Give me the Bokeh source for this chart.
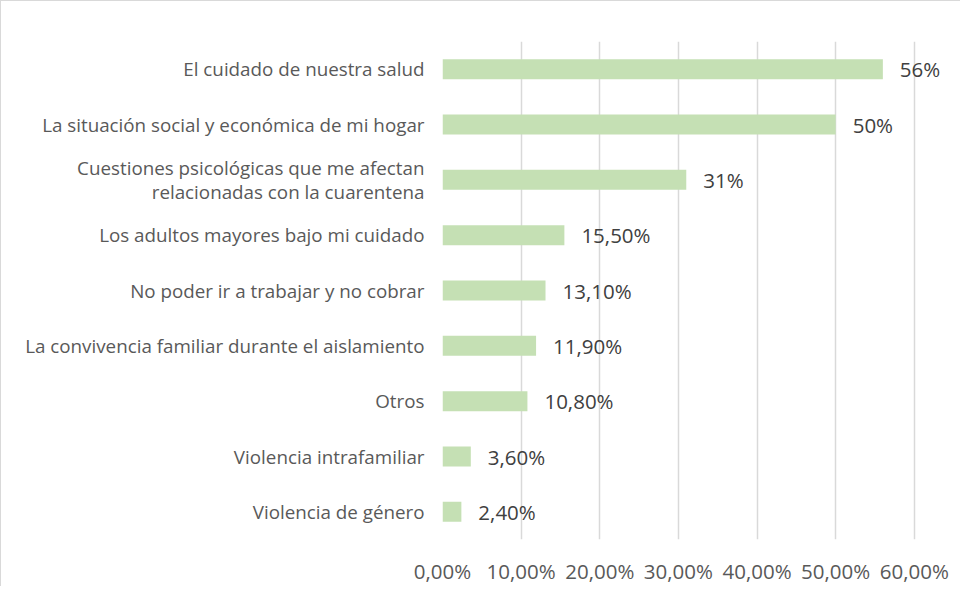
from bokeh.plotting import figure
from bokeh.models import FactorRange, Range1d, FixedTicker, ColumnDataSource, Grid
from bokeh.embed import file_html
from bokeh.resources import INLINE

categories = [
    "El cuidado de nuestra salud",
    "La situación social y económica de mi hogar",
    "Cuestiones psicológicas que me afectan\nrelacionadas con la cuarentena",
    "Los adultos mayores bajo mi cuidado",
    "No poder ir a trabajar y no cobrar",
    "La convivencia familiar durante el aislamiento",
    "Otros",
    "Violencia intrafamiliar",
    "Violencia de género",
]
values = [56, 50, 31, 15.5, 13.1, 11.9, 10.8, 3.6, 2.4]
value_labels = ["56%", "50%", "31%", "15,50%", "13,10%", "11,90%", "10,80%", "3,60%", "2,40%"]
x_ticks = [0, 10, 20, 30, 40, 50, 60]
x_tick_labels = ["0,00%", "10,00%", "20,00%", "30,00%", "40,00%", "50,00%", "60,00%"]

FONT = "Open Sans"
BAR_COLOR = "#C5E0B4"
GRID_COLOR = "#D9D9D9"

src = ColumnDataSource(dict(cat=categories, val=values, lab=value_labels))

p = figure(
    width=960, height=586,
    y_range=FactorRange(factors=list(reversed(categories)), range_padding=0),
    x_range=Range1d(0, 66),
    output_backend="svg", toolbar_location=None,
    min_border_left=441, min_border_right=0, min_border_top=40, min_border_bottom=45,
)
p.styles = {"border-top": "1px solid #D9D9D9", "border-left": "1px solid #D9D9D9"}
p.outline_line_color = None
p.background_fill_color = "white"
p.border_fill_color = "white"

p.hbar(y="cat", right="val", left=0, height=0.36, source=src,
       fill_color=BAR_COLOR, line_color=None)

p.text(x="val", y="cat", text="lab", source=src, x_offset=17,
       text_font={"value": FONT}, text_font_size="20.5px", text_color="#404040",
       text_baseline="middle", text_align="left")

p.xgrid.grid_line_color = None
p.ygrid.grid_line_color = None
g = Grid(dimension=0, ticker=FixedTicker(ticks=x_ticks), bounds=(0, 60),
         grid_line_color=GRID_COLOR, grid_line_width=1.5)
p.add_layout(g)

xa = p.xaxis[0]
xa.ticker = FixedTicker(ticks=x_ticks)
xa.major_label_overrides = {t: l for t, l in zip(x_ticks, x_tick_labels)}
xa.axis_line_color = None
xa.major_tick_line_color = None
xa.minor_tick_line_color = None
xa.major_label_text_font = FONT
xa.major_label_text_font_size = "20.5px"
xa.major_label_text_color = "#595959"
xa.major_label_standoff = 11

ya = p.yaxis[0]
ya.axis_line_color = None
ya.major_tick_line_color = None
ya.minor_tick_line_color = None
ya.major_label_text_font = FONT
ya.major_label_text_font_size = "18.8px"
ya.major_label_text_color = "#595959"
ya.major_label_text_line_height = 0.9
ya.major_label_standoff = 12

open("out.html", "w").write(file_html(p, INLINE))
